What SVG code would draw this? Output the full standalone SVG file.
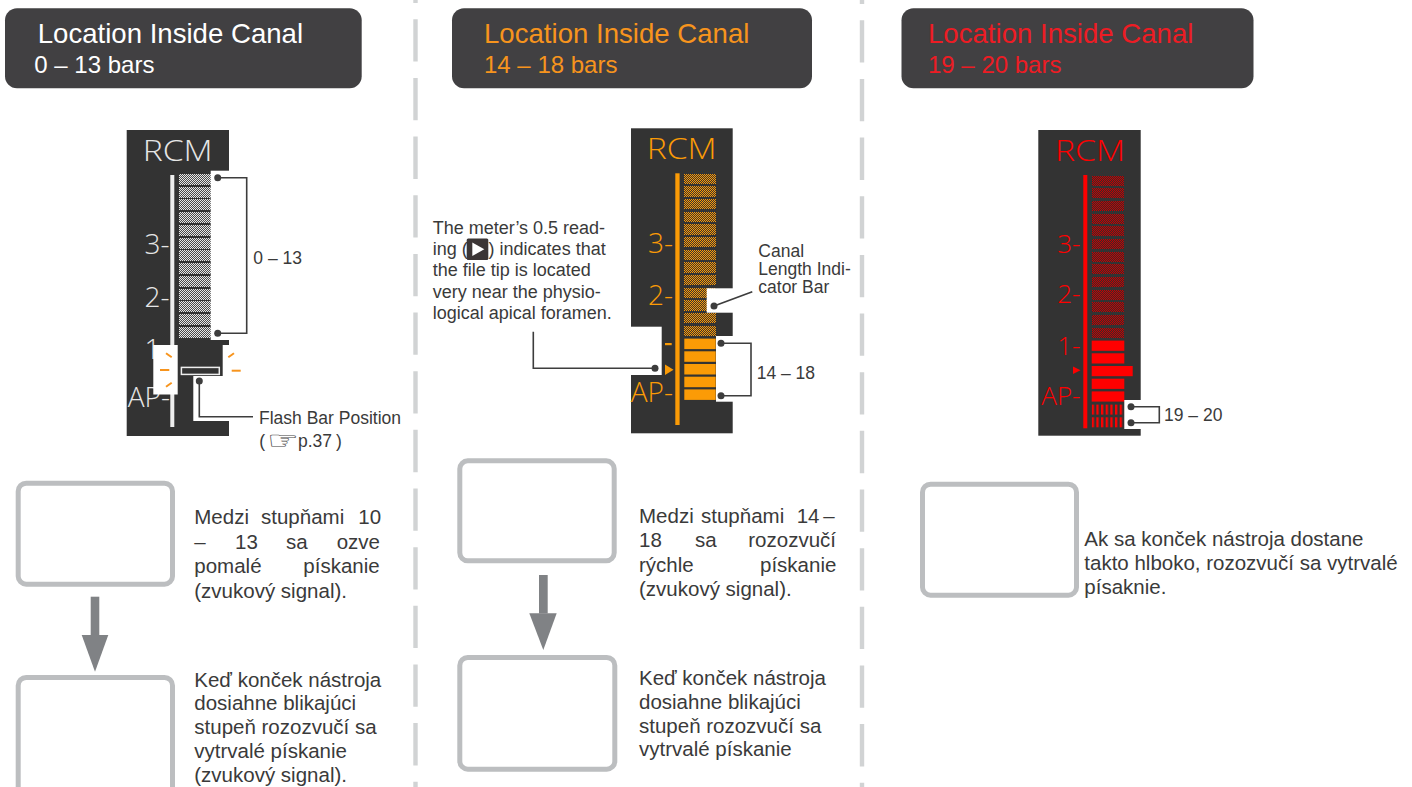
<svg xmlns="http://www.w3.org/2000/svg" width="1412" height="787" viewBox="0 0 1412 787">
<style>
.hdr{fill:#414042}
.t{font-family:"Liberation Sans",Arial,sans-serif}
.h1{font-size:27.6px}
.h2{font-size:24px}
.body{font-size:20.5px;fill:#3a3a3a}
.ann{font-size:17.5px;fill:#3a3a3a}
.box{fill:#fff;stroke:#bcbec0;stroke-width:5}
.ld{fill:none;stroke:#3d3d3d;stroke-width:1.6}
.dot{fill:#3d3d3d}
.div{stroke:#d1d3d4;stroke-width:4.4;stroke-dasharray:42.3 16.35}
.panel{fill:#333333}
.cut{fill:#ffffff}
.lcd{font-family:"Open Sans","Liberation Sans",sans-serif;font-weight:300}
.rcm{font-size:29px}
.sc{font-size:28px;text-anchor:end}
.arw{fill:#808285}
.fl{stroke:#f7941d;stroke-width:2;stroke-linecap:butt}
.px{shape-rendering:crispEdges}
</style>
<defs>
<pattern id="chkW" width="2" height="2" patternUnits="userSpaceOnUse"><rect class="px" width="2" height="2" fill="#4a4a4a"/><rect class="px" width="1" height="1" fill="#e8e8e8"/><rect class="px" x="1" y="1" width="1" height="1" fill="#e8e8e8"/></pattern>
<pattern id="chkO" width="2" height="2" patternUnits="userSpaceOnUse"><rect class="px" width="2" height="2" fill="#3a3330"/><rect class="px" width="1" height="1" fill="#fb9b06"/><rect class="px" x="1" y="1" width="1" height="1" fill="#fb9b06"/></pattern>
<pattern id="chkR" width="2" height="2" patternUnits="userSpaceOnUse"><rect class="px" width="2" height="2" fill="#3a2a2a"/><rect class="px" width="1" height="1" fill="#c80000"/><rect class="px" x="1" y="1" width="1" height="1" fill="#c80000"/></pattern>
<pattern id="hatR" x="1091.7" width="4.66" height="4" patternUnits="userSpaceOnUse"><rect width="4.66" height="4" fill="#333"/><rect width="2.3" height="4" fill="#ff0000"/></pattern>
</defs>

<g id="dividers">
<line class="div" x1="415.5" y1="0" x2="415.5" y2="787" stroke-dashoffset="39.35"/>
<line class="div" x1="862" y1="0" x2="862" y2="787" stroke-dashoffset="38.35"/>
</g>

<g id="header-left">
<rect class="hdr" x="5" y="8.3" width="356.7" height="80" rx="12"/>
<text class="t h1" x="37.7" y="43.3" fill="#ffffff">Location Inside Canal</text>
<text class="t h2" x="34.3" y="72.7" fill="#ffffff">0 – 13 bars</text>
</g>
<g id="header-mid">
<rect class="hdr" x="452" y="8.3" width="360" height="80" rx="12"/>
<text class="t h1" x="484" y="43.3" fill="#f7941d">Location Inside Canal</text>
<text class="t h2" x="484" y="72.7" fill="#f7941d">14 – 18 bars</text>
</g>
<g id="header-right">
<rect class="hdr" x="901.5" y="8.3" width="352" height="80" rx="12"/>
<text class="t h1" x="928" y="43.3" fill="#ed1c24">Location Inside Canal</text>
<text class="t h2" x="928" y="72.7" fill="#ed1c24">19 – 20 bars</text>
</g>

<g id="meter-left">
<rect class="panel" x="126.7" y="130" width="102.3" height="306"/>
<text class="lcd rcm" x="142.7" y="161" fill="#e6e6e6" textLength="70" lengthAdjust="spacingAndGlyphs">RCM</text>
<rect x="170.3" y="175" width="4" height="252" fill="#eeeeee"/>
<g fill="url(#chkW)">
<rect x="179" y="174" width="32" height="11"/>
<rect x="179" y="187" width="32" height="11"/>
<rect x="179" y="199" width="32" height="11"/>
<rect x="179" y="212" width="32" height="11"/>
<rect x="179" y="225" width="32" height="11"/>
<rect x="179" y="238" width="32" height="11"/>
<rect x="179" y="250" width="32" height="11"/>
<rect x="179" y="263" width="32" height="11"/>
<rect x="179" y="276" width="32" height="11"/>
<rect x="179" y="289" width="32" height="11"/>
<rect x="179" y="301" width="32" height="11"/>
<rect x="179" y="314" width="32" height="11"/>
<rect x="179" y="327" width="32" height="11"/>
</g>
<g class="lcd sc" fill="#e6e6e6">
<text x="169.5" y="253.5">3-</text>
<text x="169.5" y="306.5">2-</text>
<text x="169.5" y="358.5">1-</text>
<text x="170" y="406.5">AP-</text>
</g>
<rect class="cut" x="210.7" y="170.7" width="21" height="169.3"/>
<rect class="cut" x="153.3" y="345" width="24.4" height="49.5"/>
<rect class="cut" x="222.7" y="345" width="8" height="32"/>
<rect class="cut" x="193.3" y="376" width="37" height="45"/>
<line class="fl" x1="166" y1="353.3" x2="171.7" y2="357.3"/>
<line class="fl" x1="160" y1="370" x2="169.3" y2="370"/>
<line class="fl" x1="166" y1="386.7" x2="171.7" y2="382.7"/>
<line class="fl" x1="228.3" y1="357.3" x2="234" y2="353.3"/>
<line class="fl" x1="231.7" y1="370.7" x2="240.7" y2="370.7"/>
<rect x="181.4" y="367.4" width="37.9" height="7" fill="#333" stroke="#eeeeee" stroke-width="1.5"/>
</g>

<g id="meter-mid">
<rect class="panel" x="631" y="128.3" width="101.7" height="305"/>
<text class="lcd rcm" x="646.7" y="159.3" fill="#fb9b06" textLength="70" lengthAdjust="spacingAndGlyphs">RCM</text>
<rect x="675.3" y="173.3" width="4.3" height="251.7" fill="#fb9b06"/>
<g fill="url(#chkO)">
<rect x="684" y="174" width="32" height="10"/>
<rect x="684" y="186" width="32" height="11"/>
<rect x="684" y="199" width="32" height="10"/>
<rect x="684" y="212" width="32" height="10"/>
<rect x="684" y="224" width="32" height="11"/>
<rect x="684" y="237" width="32" height="10"/>
<rect x="684" y="250" width="32" height="10"/>
<rect x="684" y="262" width="32" height="11"/>
<rect x="684" y="275" width="32" height="10"/>
<rect x="684" y="288" width="32" height="10"/>
<rect x="684" y="300" width="32" height="11"/>
<rect x="684" y="313" width="32" height="10"/>
<rect x="684" y="326" width="32" height="10"/>
</g>
<g fill="#fb9b06">
<rect x="684.3" y="338.6" width="31.4" height="10.5"/>
<rect x="684.3" y="351.3" width="31.4" height="10.5"/>
<rect x="684.3" y="364" width="31.4" height="10.5"/>
<rect x="684.3" y="376.7" width="31.4" height="10.5"/>
<rect x="684.3" y="389.4" width="31.4" height="10.5"/>
<rect x="665" y="343" width="6.7" height="2.2"/>
<polygon points="665,364.5 673.5,369.7 665,375"/>
</g>
<g class="lcd sc" fill="#fb9b06">
<text x="673" y="253.3">3-</text>
<text x="673" y="305">2-</text>
<text x="673" y="401.7">AP-</text>
</g>
<rect class="cut" x="629" y="326.7" width="32.7" height="48.3"/>
<rect class="cut" x="706.7" y="288.3" width="27" height="24.4"/>
<rect class="cut" x="716" y="336" width="17.7" height="65.7"/>
</g>

<g id="meter-right">
<rect class="panel" x="1038.3" y="130" width="102.4" height="305.7"/>
<text class="lcd rcm" x="1055" y="161" fill="#ff0000" textLength="70" lengthAdjust="spacingAndGlyphs">RCM</text>
<rect x="1083.3" y="175" width="4" height="253.3" fill="#ff0000"/>
<g fill="url(#chkR)">
<rect x="1092" y="176" width="32" height="10"/>
<rect x="1092" y="188" width="32" height="10"/>
<rect x="1092" y="201" width="32" height="10"/>
<rect x="1092" y="214" width="32" height="10"/>
<rect x="1092" y="226" width="32" height="10"/>
<rect x="1092" y="239" width="32" height="10"/>
<rect x="1092" y="252" width="32" height="10"/>
<rect x="1092" y="264" width="32" height="10"/>
<rect x="1092" y="277" width="32" height="10"/>
<rect x="1092" y="290" width="32" height="10"/>
<rect x="1092" y="302" width="32" height="10"/>
<rect x="1092" y="315" width="32" height="10"/>
<rect x="1092" y="328" width="32" height="10"/>
</g>
<g fill="#ff0000">
<rect x="1091.7" y="340.6" width="32.6" height="10.2"/>
<rect x="1091.7" y="353.3" width="32.6" height="10.2"/>
<rect x="1091.7" y="366" width="41" height="10.2"/>
<rect x="1091.7" y="378.7" width="32.6" height="10.2"/>
<rect x="1091.7" y="391.4" width="32.6" height="10.2"/>
<polygon points="1073,366.5 1080.5,370.3 1073,374"/>
</g>
<g fill="url(#hatR)">
<rect x="1091.7" y="404.6" width="32.6" height="10"/>
<rect x="1091.7" y="417.3" width="32.6" height="10"/>
</g>
<g class="lcd sc" fill="#ff0000" style="font-size:26px">
<text x="1080.5" y="253.3">3-</text>
<text x="1080.5" y="303.3">2-</text>
<text x="1080.5" y="355">1-</text>
<text x="1080.5" y="405">AP-</text>
</g>
<rect class="cut" x="1124.3" y="400" width="17" height="29"/>
</g>

<g id="label-left-range">
<text class="t ann" x="253.3" y="263.5">0 – 13</text>
</g>
<g id="label-flash">
<text class="t ann" x="259" y="424">Flash Bar Position</text>
<text class="t ann" x="259.3" y="447">(</text>
<text transform="translate(267,449) scale(1.55,1.1)" style="font-family:'DejaVu Sans',sans-serif;font-size:23px" fill="#444">☞</text>
<text class="t ann" x="298" y="447">p.37</text>
<text class="t ann" x="336" y="447">)</text>
</g>
<g id="label-reading">
<text class="t ann" style="font-size:18px" x="432.7" y="234">The meter’s 0.5 read-</text>
<text class="t ann" style="font-size:18px" x="432.7" y="255">ing (</text>
<rect x="466.7" y="238.5" width="21.6" height="21.5" rx="1.5" fill="#3b3535"/>
<polygon points="472.3,242.5 484.3,249.2 472.3,256" fill="#ffffff"/>
<text class="t ann" style="font-size:18px" x="488.6" y="255">) indicates that</text>
<text class="t ann" style="font-size:18px" x="432.7" y="276">the file tip is located</text>
<text class="t ann" style="font-size:18px" x="432.7" y="297.5">very near the physio-</text>
<text class="t ann" style="font-size:18px" x="432.7" y="318.5">logical apical foramen.</text>
</g>
<g id="label-canal">
<text class="t ann" x="758.3" y="256.7">Canal</text>
<text class="t ann" x="758.3" y="275">Length Indi-</text>
<text class="t ann" x="758.3" y="293.3">cator Bar</text>
</g>
<g id="label-mid-range">
<text class="t ann" x="756.7" y="379">14 – 18</text>
</g>
<g id="label-right-range">
<text class="t ann" x="1164" y="421">19 – 20</text>
</g>

<g id="box-left-1"><rect class="box" x="18.2" y="483.2" width="154.3" height="101" rx="8"/></g>
<g id="box-left-2"><rect class="box" x="18.2" y="677.5" width="154.3" height="130" rx="8"/></g>
<g id="box-mid-1"><rect class="box" x="459.8" y="460.8" width="154.4" height="100" rx="8"/></g>
<g id="box-mid-2"><rect class="box" x="459.8" y="657.5" width="155" height="111.7" rx="8"/></g>
<g id="box-right"><rect class="box" x="922.5" y="484.2" width="154" height="111" rx="8"/></g>

<g id="text-left-1" class="t body">
<text y="524"><tspan x="194.3">Medzi</tspan><tspan x="261">stupňami</tspan><tspan x="358.3">10</tspan></text>
<text y="548.5"><tspan x="194.3">–</tspan><tspan x="235">13</tspan><tspan x="286">sa</tspan><tspan x="336.7">ozve</tspan></text>
<text y="573"><tspan x="194.3">pomalé</tspan><tspan x="303.3">pískanie</tspan></text>
<text x="194.3" y="597.5">(zvukový signal).</text>
</g>
<g id="text-left-2" class="t body">
<text x="194.3" y="686.7">Keď konček nástroja</text>
<text x="194.3" y="710.4">dosiahne blikajúci</text>
<text x="194.3" y="734.1">stupeň rozozvučí sa</text>
<text x="194.3" y="757.8">vytrvalé pískanie</text>
<text x="194.3" y="781.5">(zvukový signal).</text>
</g>
<g id="text-mid-1" class="t body">
<text y="523.3"><tspan x="639">Medzi</tspan><tspan x="701">stupňami</tspan><tspan x="796.7">14</tspan><tspan x="823.3">–</tspan></text>
<text y="547.3"><tspan x="639">18</tspan><tspan x="695">sa</tspan><tspan x="748.3">rozozvučí</tspan></text>
<text y="571.7"><tspan x="639">rýchle</tspan><tspan x="760">pískanie</tspan></text>
<text x="639" y="596">(zvukový signal).</text>
</g>
<g id="text-mid-2" class="t body">
<text x="639" y="685">Keď konček nástroja</text>
<text x="639" y="708.8">dosiahne blikajúci</text>
<text x="639" y="732.6">stupeň rozozvučí sa</text>
<text x="639" y="756.4">vytrvalé pískanie</text>
</g>
<g id="text-right" class="t body">
<text x="1084.3" y="546">Ak sa konček nástroja dostane</text>
<text x="1084.3" y="570">takto hlboko, rozozvučí sa vytrvalé</text>
<text x="1084.3" y="594">písaknie.</text>
</g>

<g id="connectors">
<path class="ld" d="M217.7 177.7 H246.7 V333.3 H217.7"/>
<circle class="dot" cx="217.7" cy="177.7" r="3.5"/>
<circle class="dot" cx="217.7" cy="333.3" r="3.5"/>
<path class="ld" d="M199.3 381 V416.7 H253"/>
<circle class="dot" cx="199.3" cy="381" r="3.5"/>
<path class="ld" d="M655 368.3 H533.3 V331.7"/>
<circle class="dot" cx="655" cy="368.3" r="3.5"/>
<path class="ld" d="M714 306 L752.3 291.7"/>
<circle class="dot" cx="714" cy="306" r="3.5"/>
<path class="ld" d="M721 343.3 H751 V395.7 H721"/>
<circle class="dot" cx="721" cy="343.3" r="3.5"/>
<circle class="dot" cx="721" cy="395.7" r="3.5"/>
<path class="ld" d="M1131 406.7 H1159.3 V422.7 H1131"/>
<circle class="dot" cx="1131" cy="406.7" r="3.5"/>
<circle class="dot" cx="1131" cy="422.7" r="3.5"/>
<rect class="arw" x="90.7" y="596.7" width="8.6" height="38.5"/>
<polygon class="arw" points="81.7,635 108.3,635 95,671.7"/>
<rect class="arw" x="539" y="575" width="8.7" height="38.5"/>
<polygon class="arw" points="529.3,613.3 556.7,613.3 543.3,650"/>
</g>
</svg>
